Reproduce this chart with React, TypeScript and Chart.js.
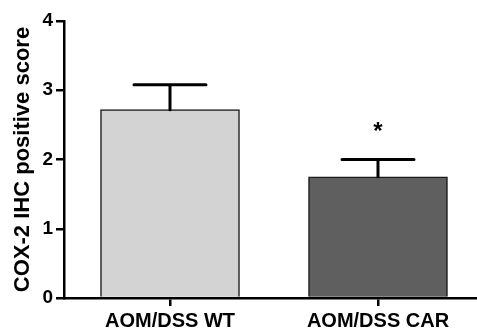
import React, { useEffect, useRef } from "react";
import { Chart, registerables } from "chart.js";

Chart.register(...registerables);

const categories = ["AOM/DSS WT", "AOM/DSS CAR"];
const meanScores = [2.72, 1.75];
const errorSizes = [0.36, 0.25];
const significanceMarks = ["", "*"];
const yTickValues = [0, 1, 2, 3, 4];
const barColors = ["#d3d3d3", "#5f5f5f"];

const FONT = "'Liberation Sans', Arial, sans-serif";

const errorBarPlugin = {
  id: "errorBars",
  afterDatasetsDraw(chart: any) {
    const { ctx, scales } = chart;
    const xs = scales.x;
    const ys = scales.y;
    ctx.save();
    ctx.strokeStyle = "#000";
    ctx.fillStyle = "#000";
    ctx.lineWidth = 3;
    ctx.lineCap = "round";
    meanScores.forEach((m, i) => {
      const cx = xs.getPixelForValue(i);
      const yTop = ys.getPixelForValue(m + errorSizes[i]);
      const yBar = ys.getPixelForValue(m);
      const half = 36;
      ctx.beginPath();
      ctx.moveTo(cx, yBar);
      ctx.lineTo(cx, yTop);
      ctx.moveTo(cx - half, yTop);
      ctx.lineTo(cx + half, yTop);
      ctx.stroke();
      if (significanceMarks[i]) {
        ctx.font = `bold 24px ${FONT}`;
        ctx.textAlign = "center";
        ctx.textBaseline = "alphabetic";
        ctx.fillText(significanceMarks[i], cx, yTop - 21);
      }
    });
    ctx.restore();
  },
};

export default function App() {
  const ref = useRef<HTMLCanvasElement | null>(null);
  useEffect(() => {
    document.body.style.margin = "0";
    const canvas = ref.current!;
    const chart = new Chart(canvas, {
      type: "bar",
      data: {
        datasets: [
          {
            data: meanScores.map((v, i) => ({ x: i, y: v })),
            backgroundColor: barColors,
            borderColor: "#1a1a1a",
            borderWidth: 1.5,
            barThickness: 139,
          } as any,
        ],
      },
      plugins: [errorBarPlugin],
      options: {
        animation: false,
        responsive: false,
        maintainAspectRatio: false,
        layout: { padding: { top: 21, right: 0, left: 0, bottom: 0 } },
        plugins: { legend: { display: false }, tooltip: { enabled: false } },
        scales: {
          x: {
            type: "linear",
            offset: false,
            min: -0.5096,
            max: 1.476,
            afterBuildTicks: (s: any) => {
              s.ticks = categories.map((_, i) => ({ value: i }));
            },
            afterFit: (s: any) => {
              s.height = 31;
            },
            grid: {
              display: true,
              offset: false,
              drawOnChartArea: false,
              drawTicks: true,
              tickLength: 8,
              color: "#000",
              tickColor: "#000",
              lineWidth: 2.5,
              tickWidth: 2.5,
            },
            border: { display: true, color: "#000", width: 2.5 },
            ticks: {
              padding: 3,
              color: "#000",
              font: { family: FONT, size: 20, weight: "bold" },
              maxRotation: 0,
              autoSkip: false,
              callback: (v: any) => categories[v as number] ?? "",
            },
          },
          y: {
            min: 0,
            max: 4,
            afterBuildTicks: (s: any) => {
              s.ticks = yTickValues.map((v) => ({ value: v }));
            },
            afterFit: (s: any) => {
              s.width = 64;
            },
            grid: {
              display: true,
              drawOnChartArea: false,
              drawTicks: true,
              tickLength: 8,
              color: "#000",
              lineWidth: 2.5,
            },
            border: { display: true, color: "#000", width: 2.5 },
            ticks: {
              padding: 3,
              color: "#000",
              font: { family: FONT, size: 19, weight: "bold" },
            },
            title: {
              display: true,
              text: "COX-2 IHC positive score",
              color: "#000",
              font: { family: FONT, size: 22, weight: "bold" },
              padding: { top: 10, bottom: 0 },
            },
          },
        },
      },
    } as any);
    return () => chart.destroy();
  }, []);
  return (
    <div style={{ position: "absolute", left: 0, top: 0, width: 477, height: 329 }}>
      <canvas ref={ref} width={477} height={329} style={{ width: 477, height: 329, display: "block" }} />
    </div>
  );
}
